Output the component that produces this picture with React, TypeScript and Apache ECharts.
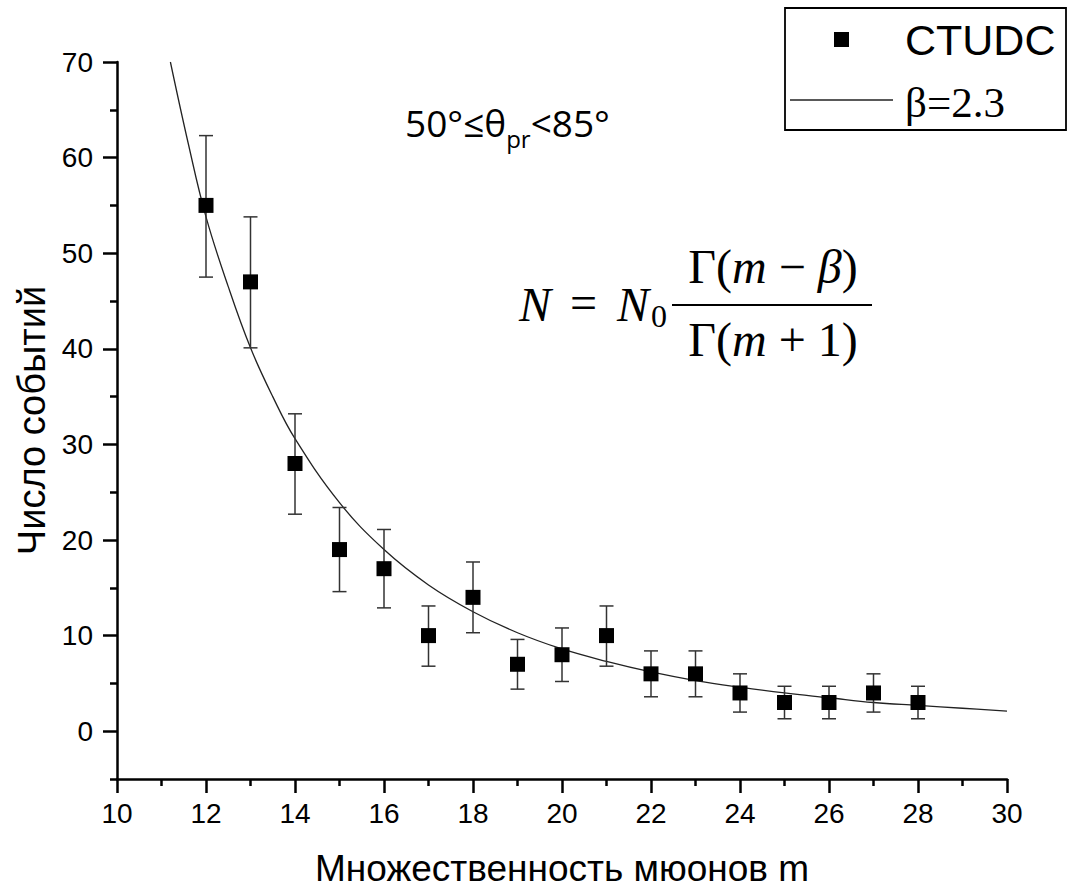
import React, { useEffect, useRef } from "react";
import * as echarts from "echarts";

const muonM = [12, 13, 14, 15, 16, 17, 18, 19, 20, 21, 22, 23, 24, 25, 26, 27, 28];
const eventCounts = [55, 47, 28, 19, 17, 10, 14, 7, 8, 10, 6, 6, 4, 3, 3, 4, 3];
const errLow = [47.5, 40.1, 22.7, 14.6, 12.9, 6.8, 10.3, 4.4, 5.2, 6.8, 3.6, 3.6, 2.0, 1.3, 1.3, 2.0, 1.3];
const errHigh = [62.3, 53.8, 33.2, 23.4, 21.1, 13.1, 17.7, 9.6, 10.8, 13.1, 8.4, 8.4, 6.0, 4.7, 4.7, 6.0, 4.7];

// Fit curve (beta = 2.3)
const fitM = [11.2, 11.6, 12, 12.5, 13, 13.5, 14, 15, 16, 17, 18, 19, 20, 21, 22, 23, 24, 25, 26, 27, 28, 29, 30];
const fitN = [70, 61.5, 53.8, 46.5, 40.1, 35.0, 30.6, 23.9, 19.0, 15.3, 12.5, 10.3, 8.6, 7.3, 6.2, 5.3, 4.6, 4.0, 3.5, 3.0, 2.7, 2.4, 2.1];

const yMajorTicks = [0, 10, 20, 30, 40, 50, 60, 70];
const yMinorTicks = [-5, 5, 15, 25, 35, 45, 55, 65];

const seriesName = "CTUDC";
const fitName = "β=2.3";
const xTitle = "Множественность мюонов m";
const yTitle = "Число событий";

const SANS = "Liberation Sans, Arial, sans-serif";
const SERIF = "Liberation Serif, Times New Roman, serif";

export default function App() {
  const ref = useRef<HTMLDivElement>(null);

  useEffect(() => {
    if (!ref.current) return;
    const chart = echarts.init(ref.current, undefined, { renderer: "svg" });

    const scatterData = muonM.map((m, i) => [m, eventCounts[i]]);
    const errData = muonM.map((m, i) => [m, errLow[i], errHigh[i]]);
    const fitData = fitM.map((m, i) => [m, fitN[i]]);

    const axisColor = "#000";
    const mathI = { fontFamily: SERIF, fontStyle: "italic", fontSize: 48, fill: "#000" };
    const mathR = { fontFamily: SERIF, fontSize: 48, fill: "#000" };

    chart.setOption({
      animation: false,
      backgroundColor: "#fff",
      grid: { left: 117, right: 64, top: 62, bottom: 111, containLabel: false },
      xAxis: {
        type: "value",
        min: 10,
        max: 30,
        interval: 2,
        name: xTitle,
        nameLocation: "middle",
        nameGap: 71,
        nameTextStyle: { fontFamily: SANS, fontSize: 37, color: "#000" },
        axisLine: { show: true, onZero: false, lineStyle: { color: axisColor, width: 2.5 } },
        axisTick: { show: true, inside: false, length: 14, lineStyle: { color: axisColor, width: 2.5 } },
        minorTick: { show: true, splitNumber: 2, length: 7, lineStyle: { color: axisColor, width: 2.5 } },
        axisLabel: { fontFamily: SANS, fontSize: 28, color: "#000", margin: 20 },
        splitLine: { show: false },
        minorSplitLine: { show: false },
      },
      yAxis: [
        {
          type: "value",
          min: -5,
          max: 70,
          name: yTitle,
          nameLocation: "middle",
          nameGap: 66,
          nameTextStyle: { fontFamily: SANS, fontSize: 38, color: "#000" },
          axisLine: { show: true, onZero: false, lineStyle: { color: axisColor, width: 2.5 } },
          axisTick: {
            show: true,
            inside: false,
            length: 14,
            customValues: yMajorTicks,
            lineStyle: { color: axisColor, width: 2.5 },
          },
          axisLabel: {
            fontFamily: SANS,
            fontSize: 28,
            color: "#000",
            margin: 24,
            customValues: yMajorTicks,
          },
          splitLine: { show: false },
        },
        {
          type: "value",
          min: -5,
          max: 70,
          position: "left",
          axisLine: { show: false },
          axisTick: {
            show: true,
            inside: false,
            length: 7,
            customValues: yMinorTicks,
            lineStyle: { color: axisColor, width: 2.5 },
          },
          axisLabel: { show: false },
          splitLine: { show: false },
        },
      ],
      series: [
        {
          name: fitName,
          type: "line",
          data: fitData,
          smooth: 0.4,
          showSymbol: false,
          symbol: "none",
          lineStyle: { color: "#222", width: 1.3 },
          z: 2,
        },
        {
          name: "err",
          type: "custom",
          data: errData,
          encode: { x: 0, y: [1, 2] },
          renderItem: (params: any, api: any) => {
            const m = api.value(0);
            const lo = api.coord([m, api.value(1)]);
            const hi = api.coord([m, api.value(2)]);
            const hw = 7;
            const style = { stroke: "#333", lineWidth: 1.5 };
            return {
              type: "group",
              children: [
                { type: "line", shape: { x1: lo[0], y1: lo[1], x2: hi[0], y2: hi[1] }, style },
                { type: "line", shape: { x1: lo[0] - hw, y1: lo[1], x2: lo[0] + hw, y2: lo[1] }, style },
                { type: "line", shape: { x1: hi[0] - hw, y1: hi[1], x2: hi[0] + hw, y2: hi[1] }, style },
              ],
            };
          },
          z: 3,
        },
        {
          name: seriesName,
          type: "scatter",
          data: scatterData,
          symbol: "rect",
          symbolSize: 15,
          itemStyle: { color: "#000", opacity: 1 },
          z: 4,
        },
      ],
      graphic: [
        // Legend box
        {
          type: "rect",
          shape: { x: 785, y: 8, width: 281, height: 122 },
          style: { fill: "#fff", stroke: "#000", lineWidth: 1.8 },
          z: 10,
        },
        {
          type: "rect",
          shape: { x: 834, y: 32, width: 15, height: 15 },
          style: { fill: "#000" },
          z: 11,
        },
        {
          type: "text",
          x: 905,
          y: 40,
          style: { text: seriesName, fontFamily: SANS, fontSize: 43, fill: "#000", verticalAlign: "middle", align: "left" },
          z: 11,
        },
        {
          type: "line",
          shape: { x1: 790, y1: 100, x2: 893, y2: 100 },
          style: { stroke: "#222", lineWidth: 1.3 },
          z: 11,
        },
        {
          type: "text",
          x: 905,
          y: 102,
          style: { text: fitName, fontFamily: SERIF, fontSize: 43, fill: "#000", verticalAlign: "middle", align: "left" },
          z: 11,
        },
        // Angle annotation
        {
          type: "text",
          x: 405,
          y: 104,
          style: {
            text: "{a|50°≤θ}{s|pr}{a|<85°}",
            fill: "#000",
            rich: {
              a: { fontFamily: "Open Sans, sans-serif", fontSize: 37, lineHeight: 46, verticalAlign: "top", fill: "#000" },
              s: { fontFamily: "Open Sans, sans-serif", fontSize: 24, lineHeight: 24, verticalAlign: "bottom", fill: "#000" },
            },
          },
          z: 5,
        },
        // Formula N = N0 Γ(m−β)/Γ(m+1)
        {
          type: "text",
          x: 519,
          y: 304,
          style: { text: "N", ...mathI, align: "left", verticalAlign: "middle" },
          z: 5,
        },
        {
          type: "text",
          x: 570,
          y: 302,
          style: { text: "=", ...mathR, align: "left", verticalAlign: "middle" },
          z: 5,
        },
        {
          type: "text",
          x: 617,
          y: 304,
          style: { text: "N", ...mathI, align: "left", verticalAlign: "middle" },
          z: 5,
        },
        {
          type: "text",
          x: 651,
          y: 316,
          style: { text: "0", ...mathR, fontSize: 32, align: "left", verticalAlign: "middle" },
          z: 5,
        },
        {
          type: "line",
          shape: { x1: 672, y1: 305, x2: 872, y2: 305 },
          style: { stroke: "#000", lineWidth: 2.2 },
          z: 5,
        },
        {
          type: "text",
          x: 773,
          y: 266,
          style: {
            text: "{r|Γ(}{i|m}{r| − }{i|β}{r|)}",
            align: "center",
            verticalAlign: "middle",
            rich: { i: mathI, r: mathR },
          },
          z: 5,
        },
        {
          type: "text",
          x: 773,
          y: 339,
          style: {
            text: "{r|Γ(}{i|m}{r| + 1)}",
            align: "center",
            verticalAlign: "middle",
            rich: { i: mathI, r: mathR },
          },
          z: 5,
        },
      ],
    });

    return () => {
      chart.dispose();
    };
  }, []);

  return (
    <div
      ref={ref}
      style={{ position: "fixed", left: 0, top: 0, width: 1071, height: 892, background: "#fff" }}
    />
  );
}
